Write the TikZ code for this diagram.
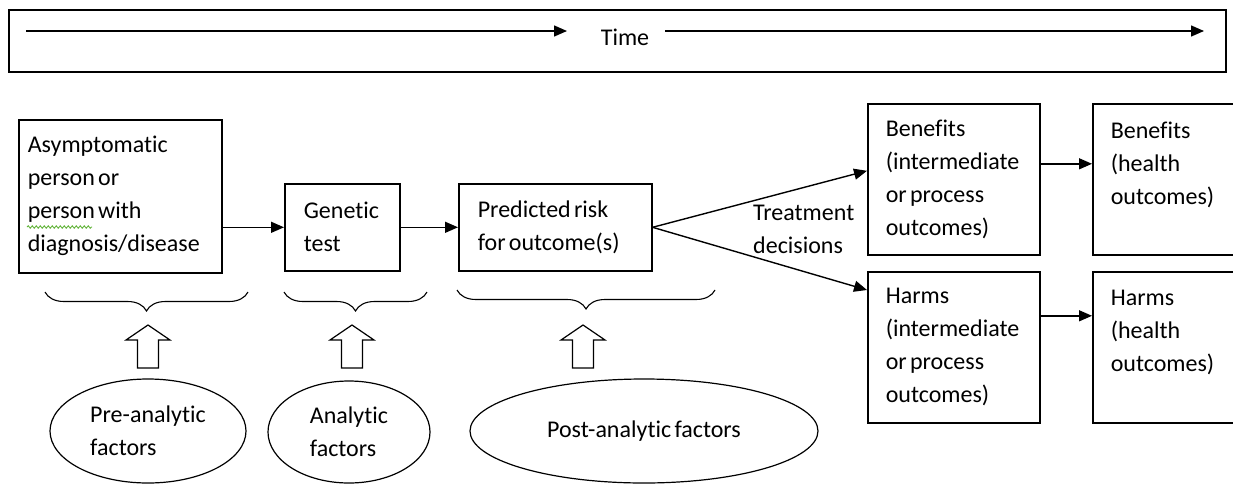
\documentclass[tikz,border=0pt]{standalone}
\usepackage{fontspec}
\setmainfont{Carlito}[Ligatures=NoCommon, WordSpace=0.6]
\usetikzlibrary{arrows.meta,shapes.geometric,decorations.pathreplacing,decorations.pathmorphing,calc}
\definecolor{squig}{RGB}{100,180,60}
\newcommand\diagfont{\fontsize{24}{33}\selectfont}
\newcommand\upblock[1]{\draw[blk] (#1-10.5,368) -- (#1-10.5,340) -- (#1-22,340) -- (#1,325) -- (#1+22,340) -- (#1+10.5,340) -- (#1+10.5,368) -- cycle;}
\begin{document}
\begin{tikzpicture}[x=1pt,y=-1pt,
  font=\diagfont,
  box/.style={draw, line width=1.6pt, rectangle, anchor=north west, inner ysep=0pt, align=flush left},
  arr/.style={line width=1.4pt, -{Triangle[length=13pt,width=11pt]}},
  ell/.style={draw, ellipse, line width=1.2pt, align=left, inner sep=0pt},
  brc/.style={decorate, decoration={brace, mirror, amplitude=19pt}, line width=1.1pt},
  blk/.style={draw, line width=1.2pt, fill=white}]
\useasboundingbox (0,0) rectangle (1233,485);

% time bar
\node[draw, line width=1.6pt, anchor=north west, minimum width=1217pt, minimum height=62pt, inner sep=0pt] (timebox) at (8,9) {};
\node[inner sep=0pt] (time) at (625,37) {Time};
\coordinate (t1s) at (26,31);
\coordinate (t1e) at (567,31);
\coordinate (t2s) at (665,31);
\coordinate (t2e) at (1204,31);
\draw[arr] (t1s) -- (t1e);
\draw[arr] (t2s) -- (t2e);

% boxes
\node[box, minimum width=203pt, minimum height=153pt, text width=185pt, inner xsep=9pt] (A) at (18,119)
  {Asymptomatic\\person or\\person with\\diagnosis/disease};
\node[box, minimum width=115pt, minimum height=87pt, text width=77pt, inner xsep=19pt] (G) at (284,183)
  {Genetic\\test};
\node[box, minimum width=193pt, minimum height=87pt, text width=155pt, inner xsep=19pt] (P) at (458,183)
  {Predicted risk\\for outcome(s)};
\node[box, minimum width=172pt, minimum height=151pt, text width=136pt, inner xsep=18pt] (B1) at (867,103)
  {Benefits\\(intermediate\\or process\\outcomes)};
\node[box, minimum width=150pt, minimum height=151pt, text width=114pt, inner xsep=18pt] (B2) at (1092,103)
  {Benefits\\(health\\outcomes)\\\mbox{}};
\node[box, minimum width=172pt, minimum height=151pt, text width=136pt, inner xsep=18pt] (H1) at (867,271)
  {Harms\\(intermediate\\or process\\outcomes)};
\node[box, minimum width=150pt, minimum height=151pt, text width=114pt, inner xsep=18pt] (H2) at (1092,271)
  {Harms\\(health\\outcomes)\\\mbox{}};

% spell-check squiggle
\draw[squig, line width=0.9pt, decorate, decoration={snake, segment length=4pt, amplitude=1.2pt}] (27,227) -- (92,227);

\node[anchor=west, align=left, inner sep=0pt] (td) at (753,229) {Treatment\\decisions};

% connectors
\draw[arr] (A.east |- G.west) -- (G.west);
\draw[arr] (G.east) -- (P.west);
\draw[arr] (P.east) -- ([yshift=8.5pt]B1.west);
\draw[arr] (P.east) -- ([yshift=-19pt]H1.north west);
\coordinate (bb) at ([yshift=15.5pt]B1.east);
\draw[arr] (bb) -- (bb -| B2.west);
\coordinate (hh) at ([yshift=31.5pt]H1.east);
\draw[arr] (hh) -- (hh -| H2.west);

% braces
\coordinate (bA1) at (45,292);  \coordinate (bA2) at (248,292);
\coordinate (bG1) at (284,292); \coordinate (bG2) at (427,292);
\coordinate (bP1) at (457,290); \coordinate (bP2) at (715,290);
\draw[brc] (bA1) -- (bA2);
\draw[brc] (bG1) -- (bG2);
\draw[brc] (bP1) -- (bP2);

% block arrows
\upblock{148}
\upblock{352}
\upblock{583}

% ellipses
\node[ell, minimum width=196pt, minimum height=104pt] (pre) at (148,431) {Pre-analytic\\factors};
\node[ell, minimum width=162pt, minimum height=102pt] (ana) at (349,432) {Analytic\\factors};
\node[ell, minimum width=348pt, minimum height=104pt] (post) at (644,431) {Post-analytic factors};
\end{tikzpicture}
\end{document}
